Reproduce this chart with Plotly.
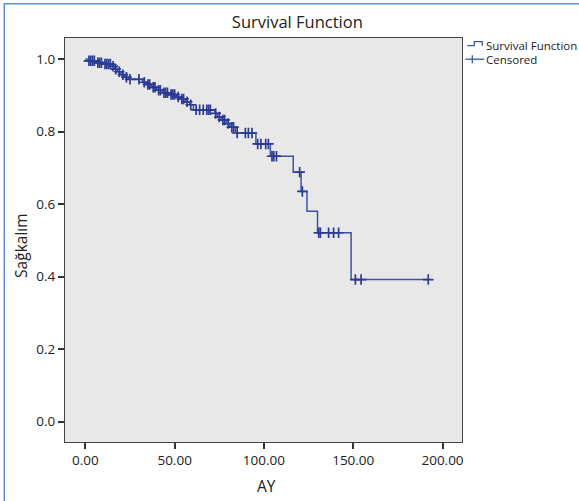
import plotly.graph_objects as go

# ---- data ----
event_times = [0, 1, 6, 10, 15, 16.5, 18, 20, 22, 24, 32, 34, 37, 40, 43, 47, 51, 53, 56, 58.5,
               60.5, 72.5, 74, 76, 79, 81, 84, 95.5, 103.6, 116.4, 120.8, 124.1, 130, 148.8, 192]
event_surv = [1.0, 0.995, 0.99, 0.986, 0.98, 0.972, 0.965, 0.957, 0.95, 0.944, 0.936, 0.93, 0.922,
              0.914, 0.907, 0.902, 0.895, 0.89, 0.882, 0.874, 0.86, 0.85, 0.84, 0.832, 0.822, 0.812,
              0.796, 0.766, 0.732, 0.688, 0.635, 0.58, 0.521, 0.392, 0.392]

censor_times = [2, 3, 4, 5, 7, 8, 9, 11, 12, 13, 14, 15.5, 17, 19, 21, 23, 25, 30, 33, 35, 36, 38, 39,
                41, 42, 44, 45, 46, 48, 49, 50, 52, 54, 55, 57, 59, 62, 64, 66, 68, 69, 70, 73, 75,
                77, 78, 80, 82, 83, 85, 89.6, 91.3, 93.3, 96.5, 98.3, 101, 102.5, 104.5, 105.5, 107,
                120, 121.5, 130.7, 131.6, 136.2, 139, 141.8, 151.2, 154.4, 192]
censor_surv = [0.995, 0.995, 0.995, 0.995, 0.99, 0.99, 0.99, 0.986, 0.986, 0.986, 0.986, 0.98, 0.972,
               0.965, 0.957, 0.95, 0.944, 0.944, 0.936, 0.93, 0.93, 0.922, 0.922, 0.914, 0.914, 0.907,
               0.907, 0.907, 0.902, 0.902, 0.902, 0.895, 0.89, 0.89, 0.882, 0.874, 0.86, 0.86, 0.86,
               0.86, 0.86, 0.86, 0.85, 0.84, 0.832, 0.832, 0.822, 0.812, 0.812, 0.796, 0.796, 0.796,
               0.796, 0.766, 0.766, 0.766, 0.766, 0.732, 0.732, 0.732, 0.688, 0.635, 0.521, 0.521,
               0.521, 0.521, 0.521, 0.392, 0.392, 0.392]

x_ticks = [0, 50, 100, 150, 200]
y_ticks = [0.0, 0.2, 0.4, 0.6, 0.8, 1.0]

# ---- layout geometry ----
W, H = 579, 501
L, R, T, B = 64.7, 461.7, 38.3, 442.5
FONT = "Open Sans"
LINE_C = "#3a55a8"
MARK_C = "#2b3a92"


def px2x(px):
    return (px - L) / (R - L)


def py2y(py):
    return (B - py) / (B - T)


fig = go.Figure()
fig.add_trace(go.Scatter(x=event_times, y=event_surv, mode="lines", line_shape="hv",
                         line=dict(color=LINE_C, width=1.5), showlegend=False,
                         name="Survival Function"))
fig.add_trace(go.Scatter(x=censor_times, y=censor_surv, mode="markers",
                         marker=dict(symbol="cross-thin", size=7.5,
                                     line=dict(color=MARK_C, width=1.7)),
                         showlegend=False, name="Censored"))

shapes = [
    # outer blue frame (cropped on right/bottom)
    dict(type="rect", xref="paper", yref="paper", x0=px2x(4), x1=px2x(700), y0=py2y(700), y1=py2y(4),
         line=dict(color="#5b8ec7", width=1.5), fillcolor="rgba(0,0,0,0)", layer="below"),
    # legend: step symbol
    dict(type="path", xref="paper", yref="paper",
         path="M {a},{b} L {c},{b} L {c},{d} L {e},{d} L {e},{b}".format(
             a=px2x(467), b=py2y(46), c=px2x(474), d=py2y(42), e=px2x(482)),
         line=dict(color=LINE_C, width=1.3)),
    # legend: censored symbol
    dict(type="line", xref="paper", yref="paper", x0=px2x(465), x1=px2x(484),
         y0=py2y(59.5), y1=py2y(59.5), line=dict(color=LINE_C, width=1.3)),
    dict(type="line", xref="paper", yref="paper", x0=px2x(472), x1=px2x(472),
         y0=py2y(55.5), y1=py2y(63.5), line=dict(color=LINE_C, width=1.3)),
]

annotations = [
    dict(text="Survival Function", xref="paper", yref="paper", x=px2x(484), y=py2y(45.5),
         xanchor="left", yanchor="middle", showarrow=False,
         font=dict(family=FONT, size=11.5, color="#222")),
    dict(text="Censored", xref="paper", yref="paper", x=px2x(484), y=py2y(59.5),
         xanchor="left", yanchor="middle", showarrow=False,
         font=dict(family=FONT, size=11.5, color="#222")),
    dict(text="AY", xref="paper", yref="paper", x=px2x(266), y=py2y(487),
         xanchor="center", yanchor="middle", showarrow=False,
         font=dict(family=FONT, size=15.5, color="#222")),
    dict(text="Sağkalım", xref="paper", yref="paper", x=px2x(20), y=py2y(246),
         xanchor="center", yanchor="middle", showarrow=False, textangle=-90,
         font=dict(family=FONT, size=15.5, color="#222")),
]

fig.update_layout(
    width=W, height=H,
    margin=dict(l=L, r=W - R, t=T, b=H - B),
    paper_bgcolor="white", plot_bgcolor="#e8e8e8",
    title=dict(text="Survival Function", xref="paper", x=px2x(297), xanchor="center",
               yref="container", y=1 - 22.5 / H, yanchor="middle",
               font=dict(family=FONT, size=16.5, color="#222")),
    font=dict(family=FONT, color="#222"),
    shapes=shapes, annotations=annotations,
    xaxis=dict(range=[-11.4, 210.9], tickvals=x_ticks, ticktext=["%.2f" % v for v in x_ticks],
               showgrid=False, zeroline=False, showline=True, mirror=True,
               linecolor="#444", linewidth=1.3, ticks="outside", ticklen=6, tickwidth=1.5,
               tickcolor="#333", tickfont=dict(family=FONT, size=13.5, color="#222")),
    yaxis=dict(range=[-0.056, 1.058], tickvals=y_ticks, ticktext=["%.1f" % v for v in y_ticks],
               showgrid=False, zeroline=False, showline=True, mirror=True,
               linecolor="#444", linewidth=1.3, ticks="outside", ticklen=6, tickwidth=1.5,
               tickcolor="#333", tickfont=dict(family=FONT, size=13.5, color="#222")),
)

fig.write_html("out.html")
